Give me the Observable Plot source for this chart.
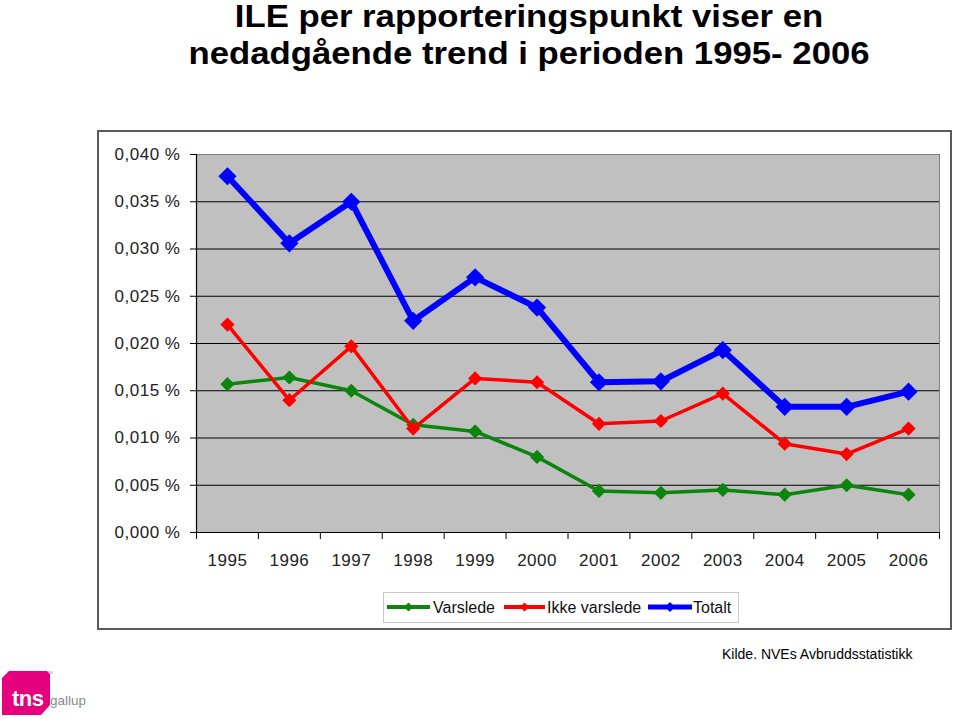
<!DOCTYPE html>
<html>
<head>
<meta charset="utf-8">
<script src="https://cdn.jsdelivr.net/npm/d3@7"></script>
<script src="https://cdn.jsdelivr.net/npm/@observablehq/plot@0.6"></script>
<style>
  html, body { margin: 0; padding: 0; background: #fff; }
  body { width: 959px; height: 719px; position: relative; overflow: hidden; font-family: "Liberation Sans", Arial, Helvetica, sans-serif; }
  #title { position: absolute; left: 29px; top: -2px; width: 1000px; text-align: center; font-weight: bold; font-size: 31px; line-height: 37px; color: #000; transform: scaleX(1.12); transform-origin: 500px 0; white-space: nowrap; }
  #box { position: absolute; left: 97px; top: 130px; width: 855px; height: 500px; box-sizing: border-box; border: 2px solid #5a5a5a; }
  #chart { position: absolute; left: 97px; top: 130px; }
  #chart svg text { letter-spacing: 0.5px; }
  #legend { position: absolute; left: 383px; top: 592px; }
  #caption { position: absolute; left: 722px; top: 646px; font-size: 14px; line-height: 16px; color: #000; white-space: nowrap; }
  #logo { position: absolute; left: 0px; top: 666px; }
</style>
</head>
<body>
<div id="title">ILE per rapporteringspunkt viser en<br>nedadgående trend i perioden 1995- 2006</div>
<div id="box"></div>
<div id="chart"></div>
<div id="legend"></div>
<div id="caption">Kilde. NVEs Avbruddsstatistikk</div>
<div id="logo">
  <svg width="92" height="53" viewBox="0 0 92 53">
    <path d="M2,12 L9,5 L47,5 L50,8 L50,39 L41,49 L2,49 Z" fill="#e5007d"/>
    <text x="12" y="40" fill="#fff" font-family="Liberation Sans, Arial, sans-serif" font-weight="bold" font-size="22" letter-spacing="-0.5">tns</text>
    <text x="50" y="39" fill="#8a8a8a" font-family="Liberation Sans, Arial, sans-serif" font-size="13.5">gallup</text>
    <text x="47" y="8" fill="#999" font-family="Liberation Sans, Arial, sans-serif" font-size="4">TM</text>
  </svg>
</div>
<script>
// ---- data ----
const years = [1995, 1996, 1997, 1998, 1999, 2000, 2001, 2002, 2003, 2004, 2005, 2006];
const varslede     = [0.0157, 0.0164, 0.0150, 0.0114, 0.0107, 0.0080, 0.0044, 0.0042, 0.0045, 0.0040, 0.0050, 0.0040];
const ikkeVarslede = [0.0220, 0.0140, 0.0197, 0.0110, 0.0163, 0.0159, 0.0115, 0.0118, 0.0147, 0.0094, 0.0083, 0.0110];
const totalt       = [0.0377, 0.0306, 0.0350, 0.0224, 0.0270, 0.0238, 0.0159, 0.0160, 0.0193, 0.0133, 0.0133, 0.0149];
const seriesNames  = ["Varslede", "Ikke varslede", "Totalt"];
const yTicks = [0, 0.005, 0.010, 0.015, 0.020, 0.025, 0.030, 0.035, 0.040];

// ---- styles (kept apart from data) ----
const seriesColors = ["#0b850b", "#ff0000", "#0000ff"];
const seriesWidths = [3.5, 3.5, 6];
const seriesRadii  = [6.4, 6.4, 8.2];

const seriesValues = [varslede, ikkeVarslede, totalt];
const tables = seriesValues.map((vals, s) => years.map((yr, i) => ({year: yr, value: vals[i], series: seriesNames[s]})));
const bounds = years.map(y => y - 0.5).concat([years[years.length - 1] + 0.5]);
const fmt = d => d.toFixed(3).replace(".", ",") + " %";

const seriesMarks = tables.flatMap((t, s) => [
  Plot.line(t, {x: "year", y: "value", stroke: seriesColors[s], strokeWidth: seriesWidths[s], strokeLinejoin: "miter", strokeLinecap: "butt"}),
  Plot.dot(t, {x: "year", y: "value", symbol: "diamond2", r: seriesRadii[s], fill: seriesColors[s], stroke: "none"})
]);

const chart = Plot.plot({
  width: 855,
  height: 500,
  marginLeft: 99,
  marginRight: 13,
  marginTop: 24,
  marginBottom: 98,
  style: {background: "transparent", fontFamily: '"Liberation Sans", Arial, sans-serif', fontSize: "17px", color: "#222", overflow: "visible"},
  x: {type: "linear", domain: [bounds[0], bounds[bounds.length - 1]], label: null},
  y: {domain: [yTicks[0], yTicks[yTicks.length - 1]], label: null},
  marks: [
    Plot.frame({fill: "#c0c0c0", stroke: "#808080", strokeWidth: 1}),
    Plot.ruleY(yTicks.slice(1, -1), {stroke: "#000", strokeWidth: 1}),
    Plot.ruleY([yTicks[0]], {stroke: "#000", strokeWidth: 1.2}),
    Plot.ruleX([bounds[0]], {stroke: "#000", strokeWidth: 1.2}),
    Plot.axisY({ticks: yTicks, tickSize: 6, tickPadding: 10, tickFormat: fmt, stroke: "#000", fill: "#222", label: null}),
    Plot.axisX({ticks: years, tickSize: 0, tickPadding: 21, tickFormat: d => String(d), fill: "#222", label: null}),
    Plot.axisX({ticks: bounds, tickSize: 7, tickFormat: () => "", stroke: "#000", label: null}),
    ...seriesMarks
  ]
});
document.getElementById("chart").appendChild(chart);

// ---- legend ----
const legendX = [4, 121, 265];
const legendLen = [43, 41, 44];
const legendTextX = [50, 164, 310];
const lg = d3.select("#legend").append("svg").attr("width", 357).attr("height", 32);
lg.append("rect").attr("x", 0.5).attr("y", 0.5).attr("width", 355).attr("height", 30).attr("fill", "#fff").attr("stroke", "#c8c8c8");
seriesNames.forEach((name, s) => {
  const g = lg.append("g");
  g.append("line").attr("x1", legendX[s]).attr("x2", legendX[s] + legendLen[s]).attr("y1", 15).attr("y2", 15)
    .attr("stroke", seriesColors[s]).attr("stroke-width", s === 2 ? 5 : 4);
  const cx = legendX[s] + legendLen[s] / 2, h = s === 2 ? 5 : 4.5;
  g.append("path").attr("d", `M${cx},${15 - h}L${cx + h},15L${cx},${15 + h}L${cx - h},15Z`).attr("fill", seriesColors[s]);
  g.append("text").attr("x", legendTextX[s]).attr("y", 21).attr("font-size", 16)
    .attr("font-family", '"Liberation Sans", Arial, sans-serif').attr("fill", "#111").text(name);
});
</script>
</body>
</html>
